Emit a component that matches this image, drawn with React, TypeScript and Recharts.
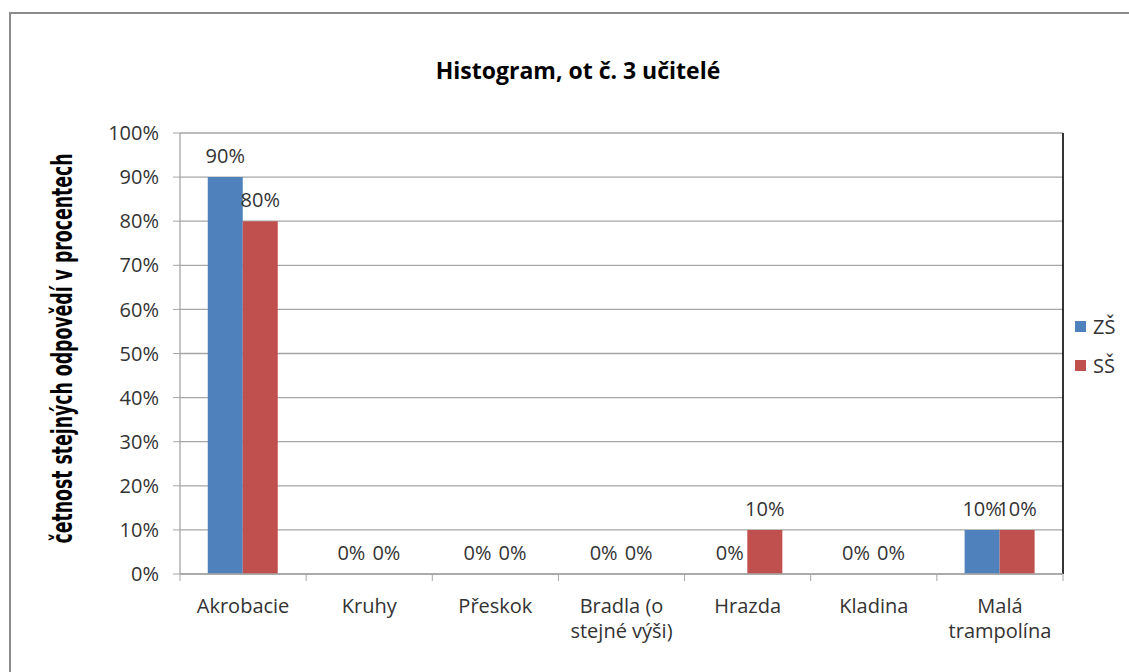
import React from 'react';
import { BarChart, Bar, XAxis, YAxis, CartesianGrid, Legend, LabelList } from 'recharts';

const categories = ['Akrobacie', 'Kruhy', 'Přeskok', 'Bradla (o\nstejné výši)', 'Hrazda', 'Kladina', 'Malá\ntrampolína'];
const zsValues = [90, 0, 0, 0, 0, 0, 10];
const ssValues = [80, 0, 0, 0, 10, 0, 10];
const yTicks = [0, 10, 20, 30, 40, 50, 60, 70, 80, 90, 100];
const seriesNames = ['ZŠ', 'SŠ'];
const seriesColors = ['#4F81BD', '#C0504D'];
const titleText = 'Histogram, ot č. 3 učitelé';
const yLabelText = 'četnost stejných odpovědí v procentech';

const data = categories.map((c, i) => ({ name: c, zs: zsValues[i], ss: ssValues[i] }));

const W = 1129;
const H = 672;
const MARGIN = { top: 133, right: 66, bottom: 38, left: 100 };
const Y_AXIS_W = 80;
const X_AXIS_H = 60;
const PLOT_W = W - MARGIN.left - MARGIN.right - Y_AXIS_W;
const BAND = PLOT_W / categories.length;
const FONT = "'Open Sans', sans-serif";
const GRID = '#a6a6a6';
const TEXT = '#333333';

const XTick = (props: any) => {
  const { x, y, payload, index } = props;
  const lines = String(payload.value).split('\n');
  const last = index === categories.length - 1;
  return (
    <g>
      <line x1={x - BAND / 2} x2={x - BAND / 2} y1={y} y2={y + 7} stroke={GRID} />
      {last && <line x1={x + BAND / 2} x2={x + BAND / 2} y1={y} y2={y + 7} stroke={GRID} />}
      <text x={x} y={y + 39} textAnchor="middle" fontFamily={FONT} fontSize={20} fill={TEXT}>
        {lines.map((l, i) => (
          <tspan key={i} x={x} dy={i === 0 ? 0 : 25}>{l}</tspan>
        ))}
      </text>
    </g>
  );
};

const YLabel = (props: any) => {
  const vb = props.viewBox || {};
  const cy = (vb.y ?? MARGIN.top) + (vb.height ?? 441) / 2 - 5;
  const cx = 72;
  return (
    <text
      x={cx}
      y={cy}
      transform={`rotate(-90, ${cx}, ${cy})`}
      textAnchor="middle"
      fontFamily="'Liberation Sans Narrow', 'DejaVu Sans Condensed', 'Liberation Sans', sans-serif"
      fontWeight="bold"
      fontSize={29}
      textLength={390}
      lengthAdjust="spacingAndGlyphs"
      fill="#000"
    >
      {yLabelText}
    </text>
  );
};

const LegendContent = (props: any) => {
  const payload = [...(props.payload || [])].sort(
    (a: any, b: any) => seriesNames.indexOf(a.value) - seriesNames.indexOf(b.value)
  );
  return (
    <div style={{ fontFamily: FONT, fontSize: 20, color: TEXT }}>
      {payload.map((p: any, i: number) => (
        <div key={i} style={{ display: 'flex', alignItems: 'center', height: 39 }}>
          <span style={{ display: 'inline-block', width: 11, height: 11, background: p.color, marginRight: 7 }} />
          <span>{p.value}</span>
        </div>
      ))}
    </div>
  );
};

const zeroMin = (v: any) => (v === 0 ? 0.001 : 0);

export default function App() {
  return (
    <div style={{ position: 'absolute', left: 0, top: 0, width: W, height: H, overflow: 'hidden', background: '#fff' }}>
      <div
        style={{
          position: 'absolute',
          left: 9,
          top: 12,
          width: 1300,
          height: 800,
          borderTop: '2px solid #8c8c8c',
          borderLeft: '2px solid #8c8c8c',
        }}
      />
      <div style={{ position: 'absolute', left: 0, top: 0 }}>
        <BarChart width={W} height={H} data={data} margin={MARGIN} barCategoryGap="22%" barGap={0}>
          <CartesianGrid horizontal vertical={false} stroke={GRID} strokeWidth={1.3} />
          <CartesianGrid
            horizontal={false}
            vertical
            stroke="#000"
            strokeWidth={1.6}
            verticalCoordinatesGenerator={({ offset }: any) => [offset.left + offset.width]}
          />
          <XAxis
            dataKey="name"
            height={X_AXIS_H}
            tickLine={false}
            tickSize={0}
            tickMargin={0}
            axisLine={{ stroke: GRID, strokeWidth: 1.3 }}
            tick={<XTick />}
            interval={0}
          />
          <YAxis
            width={Y_AXIS_W}
            domain={[0, 100]}
            ticks={yTicks}
            interval={0}
            tickFormatter={(v: number) => `${v}%`}
            tickSize={7}
            tickMargin={14}
            tickLine={{ stroke: GRID }}
            axisLine={{ stroke: GRID, strokeWidth: 1.3 }}
            tick={{ fontFamily: FONT, fontSize: 20, fill: TEXT }}
            label={<YLabel />}
          />
          <Legend
            layout="horizontal"
            verticalAlign="middle"
            align="center"
            content={<LegendContent />}
            wrapperStyle={{ position: 'absolute', left: 1075, top: 307, width: 60, height: 80 }}
          />
          <Bar dataKey="zs" name={seriesNames[0]} fill={seriesColors[0]} minPointSize={zeroMin} isAnimationActive={false}>
            <LabelList dataKey="zs" position="top" offset={14} formatter={(v: any) => `${v}%`} fill={TEXT} fontFamily={FONT} fontSize={20} />
          </Bar>
          <Bar dataKey="ss" name={seriesNames[1]} fill={seriesColors[1]} minPointSize={zeroMin} isAnimationActive={false}>
            <LabelList dataKey="ss" position="top" offset={14} formatter={(v: any) => `${v}%`} fill={TEXT} fontFamily={FONT} fontSize={20} />
          </Bar>
        </BarChart>
      </div>
      <svg width={W} height={H} style={{ position: 'absolute', left: 0, top: 0, pointerEvents: 'none' }}>
        <text x={578} y={79} textAnchor="middle" fontFamily={FONT} fontWeight="bold" fontSize={23} fill="#000">
          {titleText}
        </text>
      </svg>
    </div>
  );
}
